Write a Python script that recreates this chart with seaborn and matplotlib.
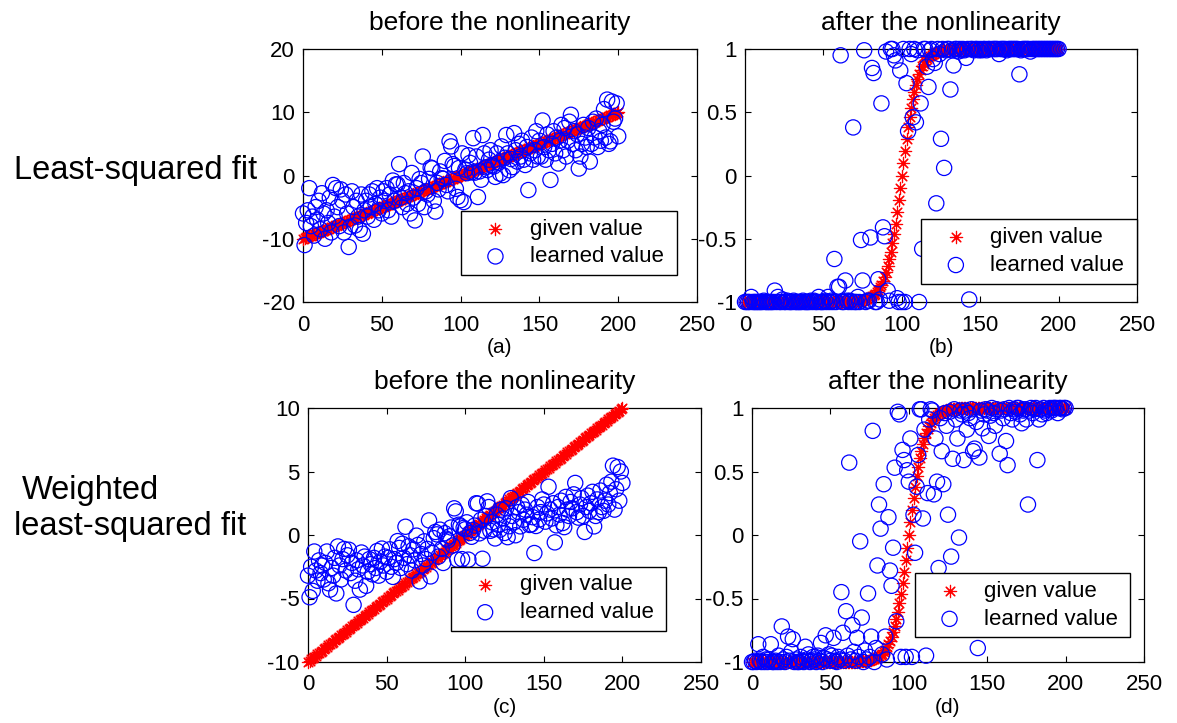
import matplotlib
matplotlib.use("Agg")
import matplotlib.pyplot as plt
import seaborn as sns
import pandas as pd

sns.set_theme(style="ticks")
plt.rcParams["font.family"] = ["Liberation Sans", "DejaVu Sans"]
plt.rcParams["axes.unicode_minus"] = False

# ---------------- data ----------------
sample_index = [
    0, 1, 2, 3, 4, 5, 6, 7, 8, 9, 10, 11, 12, 13, 14, 15, 16, 17, 18, 19,
    20, 21, 22, 23, 24, 25, 26, 27, 28, 29, 30, 31, 32, 33, 34, 35, 36, 37, 38, 39,
    40, 41, 42, 43, 44, 45, 46, 47, 48, 49, 50, 51, 52, 53, 54, 55, 56, 57, 58, 59,
    60, 61, 62, 63, 64, 65, 66, 67, 68, 69, 70, 71, 72, 73, 74, 75, 76, 77, 78, 79,
    80, 81, 82, 83, 84, 85, 86, 87, 88, 89, 90, 91, 92, 93, 94, 95, 96, 97, 98, 99,
    100, 101, 102, 103, 104, 105, 106, 107, 108, 109, 110, 111, 112, 113, 114, 115, 116, 117, 118, 119,
    120, 121, 122, 123, 124, 125, 126, 127, 128, 129, 130, 131, 132, 133, 134, 135, 136, 137, 138, 139,
    140, 141, 142, 143, 144, 145, 146, 147, 148, 149, 150, 151, 152, 153, 154, 155, 156, 157, 158, 159,
    160, 161, 162, 163, 164, 165, 166, 167, 168, 169, 170, 171, 172, 173, 174, 175, 176, 177, 178, 179,
    180, 181, 182, 183, 184, 185, 186, 187, 188, 189, 190, 191, 192, 193, 194, 195, 196, 197, 198, 199,
    200,
]

given_before = [
    -10.0, -9.9, -9.8, -9.7, -9.6, -9.5, -9.4, -9.3, -9.2, -9.1,
    -9.0, -8.9, -8.8, -8.7, -8.6, -8.5, -8.4, -8.3, -8.2, -8.1,
    -8.0, -7.9, -7.8, -7.7, -7.6, -7.5, -7.4, -7.3, -7.2, -7.1,
    -7.0, -6.9, -6.8, -6.7, -6.6, -6.5, -6.4, -6.3, -6.2, -6.1,
    -6.0, -5.9, -5.8, -5.7, -5.6, -5.5, -5.4, -5.3, -5.2, -5.1,
    -5.0, -4.9, -4.8, -4.7, -4.6, -4.5, -4.4, -4.3, -4.2, -4.1,
    -4.0, -3.9, -3.8, -3.7, -3.6, -3.5, -3.4, -3.3, -3.2, -3.1,
    -3.0, -2.9, -2.8, -2.7, -2.6, -2.5, -2.4, -2.3, -2.2, -2.1,
    -2.0, -1.9, -1.8, -1.7, -1.6, -1.5, -1.4, -1.3, -1.2, -1.1,
    -1.0, -0.9, -0.8, -0.7, -0.6, -0.5, -0.4, -0.3, -0.2, -0.1,
    0.0, 0.1, 0.2, 0.3, 0.4, 0.5, 0.6, 0.7, 0.8, 0.9,
    1.0, 1.1, 1.2, 1.3, 1.4, 1.5, 1.6, 1.7, 1.8, 1.9,
    2.0, 2.1, 2.2, 2.3, 2.4, 2.5, 2.6, 2.7, 2.8, 2.9,
    3.0, 3.1, 3.2, 3.3, 3.4, 3.5, 3.6, 3.7, 3.8, 3.9,
    4.0, 4.1, 4.2, 4.3, 4.4, 4.5, 4.6, 4.7, 4.8, 4.9,
    5.0, 5.1, 5.2, 5.3, 5.4, 5.5, 5.6, 5.7, 5.8, 5.9,
    6.0, 6.1, 6.2, 6.3, 6.4, 6.5, 6.6, 6.7, 6.8, 6.9,
    7.0, 7.1, 7.2, 7.3, 7.4, 7.5, 7.6, 7.7, 7.8, 7.9,
    8.0, 8.1, 8.2, 8.3, 8.4, 8.5, 8.6, 8.7, 8.8, 8.9,
    9.0, 9.1, 9.2, 9.3, 9.4, 9.5, 9.6, 9.7, 9.8, 9.9,
    10.0,
]

given_after = [
    -1.0, -1.0, -1.0, -1.0, -1.0, -1.0, -1.0, -1.0, -1.0, -1.0,
    -1.0, -1.0, -1.0, -1.0, -1.0, -1.0, -1.0, -1.0, -1.0, -1.0,
    -1.0, -1.0, -1.0, -1.0, -1.0, -1.0, -1.0, -1.0, -1.0, -1.0,
    -1.0, -1.0, -1.0, -1.0, -1.0, -1.0, -1.0, -1.0, -1.0, -1.0,
    -1.0, -1.0, -1.0, -1.0, -1.0, -1.0, -1.0, -1.0, -1.0, -1.0,
    -1.0, -1.0, -1.0, -1.0, -1.0, -1.0, -1.0, -1.0, -1.0, -1.0,
    -1.0, -0.999, -0.999, -0.999, -0.999, -0.998, -0.998, -0.997, -0.997, -0.996,
    -0.995, -0.994, -0.993, -0.991, -0.989, -0.987, -0.984, -0.980, -0.976, -0.970,
    -0.964, -0.956, -0.947, -0.935, -0.922, -0.905, -0.885, -0.862, -0.834, -0.800,
    -0.762, -0.716, -0.664, -0.604, -0.537, -0.462, -0.380, -0.291, -0.197, -0.100,
    0.0, 0.100, 0.197, 0.291, 0.380, 0.462, 0.537, 0.604, 0.664, 0.716,
    0.762, 0.800, 0.834, 0.862, 0.885, 0.905, 0.922, 0.935, 0.947, 0.956,
    0.964, 0.970, 0.976, 0.980, 0.984, 0.987, 0.989, 0.991, 0.993, 0.994,
    0.995, 0.996, 0.997, 0.997, 0.998, 0.998, 0.999, 0.999, 0.999, 0.999,
    1.0, 1.0, 1.0, 1.0, 1.0, 1.0, 1.0, 1.0, 1.0, 1.0,
    1.0, 1.0, 1.0, 1.0, 1.0, 1.0, 1.0, 1.0, 1.0, 1.0,
    1.0, 1.0, 1.0, 1.0, 1.0, 1.0, 1.0, 1.0, 1.0, 1.0,
    1.0, 1.0, 1.0, 1.0, 1.0, 1.0, 1.0, 1.0, 1.0, 1.0,
    1.0, 1.0, 1.0, 1.0, 1.0, 1.0, 1.0, 1.0, 1.0, 1.0,
    1.0, 1.0, 1.0, 1.0, 1.0, 1.0, 1.0, 1.0, 1.0, 1.0,
    1.0,
]

# (a) least-squared fit, learned value before the nonlinearity
ls_learned_before = [
    -6.0, -11.0, -7.5, -5.5, -2.0, -8.0, -6.5, -9.5, -5.0, -7.0,
    -4.0, -8.5, -2.8, -6.0, -10.0, -5.5, -7.5, -3.5, -9.0, -1.5,
    -6.5, -2.0, -5.0, -8.0, -2.2, -4.0, -9.0, -3.0, -6.0, -11.3,
    -8.1, -2.5, -5.0, -7.9, -4.0, -6.5, -8.6, -3.0, -9.2, -5.5,
    -4.0, -6.5, -3.0, -5.0, -2.5, -7.0, -4.5, -2.0, -5.5, -3.5,
    -6.0, -2.5, -4.0, -2.0, -5.5, -3.0, -6.5, -0.8, -4.0, -1.4,
    -1.4, 1.8, -3.5, -5.0, -1.2, -2.8, -4.5, -2.5, -6.0, 0.4,
    -3.5, -7.1, -2.0, -4.5, -0.56, -1.2, 3.0, -5.0, -2.5, -3.0,
    -0.54, 1.26, 1.13, -4.0, -5.7, -1.16, -2.2, 0.64, -0.44, -0.52,
    2.3, -1.5, -2.5, 5.4, 4.6, 1.8, 1.5, -2.1, -3.4, 1.19,
    -3.9, 3.5, -4.2, 0.93, 0.37, 3.2, 2.0, 0.5, 5.9, 0.45,
    3.0, -3.4, 0.65, -0.67, 6.4, 3.5, 1.3, 0.87, 2.5, 4.0,
    1.6, 1.42, -0.22, 3.5, 2.0, 0.3, 4.6, 0.06, 2.8, 6.4,
    3.5, 0.83, 2.6, 1.33, 6.7, 4.0, 2.2, 5.0, 3.0, 5.5,
    2.5, 1.66, 4.5, -2.3, 3.5, 6.0, 2.5, 4.0, 7.0, 3.0,
    5.5, 3.0, 8.7, 4.5, 2.5, 6.5, 4.0, -0.7, 5.0, 7.0,
    3.5, 6.0, 1.9, 5.5, 8.0, 4.0, 7.5, 3.0, 5.5, 8.5,
    9.6, 5.0, 7.0, 4.0, 6.5, 1.1, 3.0, 5.0, 8.0, 6.0,
    4.5, 7.5, 2.2, 5.0, 8.5, 6.0, 9.0, 4.5, 7.0, 5.5,
    8.0, 10.5, 6.0, 12.0, 5.0, 5.4, 11.7, 8.5, 9.0, 11.4,
    6.2,
]

# (b) least-squared fit, learned value after the nonlinearity
ls_learned_after = [
    -1.0, -1.0, -1.0, -1.0, -0.96, -1.0, -1.0, -1.0, -1.0, -1.0,
    -1.0, -1.0, -0.99, -1.0, -1.0, -1.0, -1.0, -1.0, -1.0, -0.91,
    -1.0, -0.96, -1.0, -1.0, -0.98, -1.0, -1.0, -0.99, -1.0, -1.0,
    -1.0, -0.99, -1.0, -1.0, -1.0, -1.0, -1.0, -0.99, -1.0, -1.0,
    -1.0, -1.0, -0.99, -1.0, -0.99, -1.0, -1.0, -0.96, -1.0, -1.0,
    -1.0, -0.99, -1.0, -0.96, -1.0, -0.99, -1.0, -0.66, -1.0, -0.88,
    -0.88, 0.95, -1.0, -1.0, -0.83, -0.99, -1.0, -0.99, -1.0, 0.38,
    -1.0, -1.0, -0.96, -1.0, -0.51, -0.83, 0.99, -1.0, -0.99, -0.99,
    -0.49, 0.85, 0.81, -1.0, -1.0, -0.82, -0.98, 0.57, -0.41, -0.48,
    0.98, -0.91, -0.99, 1.0, 1.0, 0.95, 0.91, -0.97, -1.0, 0.83,
    -1.0, 1.0, -1.0, 0.73, 0.35, 1.0, 0.96, 0.46, 1.0, 0.42,
    0.99, -1.0, 0.57, -0.58, 1.0, 1.0, 0.86, 0.70, 0.99, 1.0,
    0.92, 0.89, -0.22, 1.0, 0.96, 0.29, 1.0, 0.06, 0.99, 1.0,
    1.0, 0.68, 0.99, 0.87, 1.0, 1.0, 0.98, 1.0, 0.99, 1.0,
    0.99, 0.93, 1.0, -0.98, 1.0, 1.0, 0.99, 1.0, 1.0, 0.99,
    1.0, 0.99, 1.0, 1.0, 0.99, 1.0, 1.0, -0.60, 1.0, 1.0,
    1.0, 1.0, 0.96, 1.0, 1.0, 1.0, 1.0, 0.99, 1.0, 1.0,
    1.0, 1.0, 1.0, 1.0, 1.0, 0.80, 0.99, 1.0, 1.0, 1.0,
    1.0, 1.0, 0.98, 1.0, 1.0, 1.0, 1.0, 1.0, 1.0, 1.0,
    1.0, 1.0, 1.0, 1.0, 1.0, 1.0, 1.0, 1.0, 1.0, 1.0,
    1.0,
]

# (c) weighted least-squared fit, learned value before the nonlinearity
wls_learned_before = [
    -3.2, -4.9, -2.5, -4.4, -1.3, -2.8, -3.6, -2.0, -3.0, -2.4,
    -3.5, -2.2, -1.3, -3.8, -4.3, -2.6, -3.2, -1.8, -4.6, -0.9,
    -2.4, -3.5, -1.9, -1.1, -2.8, -1.6, -1.16, -3.0, -2.2, -5.5,
    -3.6, -2.0, -2.7, -4.3, -1.38, -2.4, -1.7, -4.0, -2.9, -1.9,
    -2.3, -3.1, -1.8, -2.6, -1.26, -3.2, -2.1, -1.07, -2.4, -1.7,
    -2.9, -1.8, -1.13, -2.5, -3.3, -1.9, -2.2, -0.48, -1.02, -2.6,
    -0.69, -1.8, 0.65, -2.3, -0.89, -1.6, -2.8, -1.13, -2.0, -0.05,
    -0.78, -3.65, -1.5, -2.4, -0.5, -1.9, -1.1, 1.15, -3.26, -1.4,
    -0.25, 0.24, 0.05, -1.7, 0.42, -1.1, -2.2, 0.14, -0.29, -0.42,
    -0.1, 0.59, -0.83, 2.1, 1.86, -1.94, 0.81, 0.68, -1.9, 0.56,
    0.45, 1.0, -1.94, 0.16, -0.14, 0.4, 0.74, 2.5, 2.47, 0.13,
    1.2, -1.87, 0.34, 1.5, 2.65, 2.2, 0.33, 1.0, 0.45, -0.27,
    1.6, 0.8, 0.42, 2.0, 1.3, 0.16, 2.1, -0.17, 0.69, 2.9,
    1.5, 1.0, -0.02, 2.2, 1.8, 0.68, 2.4, 1.2, 2.0, 1.6,
    2.6, 0.79, 0.83, 1.4, -1.42, 0.71, 2.2, 1.22, 1.8, 2.8,
    2.4, 1.05, 1.7, 3.8, 2.0, 1.3, 2.5, -0.58, 0.76, 2.2,
    1.6, 2.7, 0.94, 0.62, 3.0, 2.0, 1.5, 2.6, 2.1, 3.2,
    4.1, 1.8, 1.37, 2.4, 2.9, 1.5, 0.24, 2.2, 3.1, 1.9,
    2.5, 3.4, 0.68, 1.5, 2.8, 1.8, 3.5, 2.2, 1.9, 2.7,
    3.96, 2.4, 3.3, 4.2, 5.46, 2.0, 3.6, 5.35, 2.7, 5.0,
    4.1,
]

# (d) weighted least-squared fit, learned value after the nonlinearity
wls_learned_after = [
    -1.0, -1.0, -0.99, -1.0, -0.86, -0.99, -1.0, -0.96, -1.0, -0.98,
    -1.0, -0.98, -0.86, -1.0, -1.0, -0.99, -1.0, -0.95, -1.0, -0.72,
    -0.98, -1.0, -0.96, -0.80, -0.99, -0.92, -0.82, -1.0, -0.98, -1.0,
    -1.0, -0.96, -0.99, -1.0, -0.88, -0.98, -0.94, -1.0, -0.99, -0.96,
    -0.98, -1.0, -0.95, -0.99, -0.85, -1.0, -0.97, -0.79, -0.98, -0.94,
    -0.99, -0.95, -0.81, -0.99, -1.0, -0.96, -0.98, -0.45, -0.77, -0.99,
    -0.60, -0.95, 0.57, -0.98, -0.71, -0.92, -0.99, -0.81, -0.96, -0.05,
    -0.65, -1.0, -0.91, -0.98, -0.46, -0.96, -0.80, 0.82, -1.0, -0.89,
    -0.24, 0.24, 0.05, -0.94, 0.40, -0.80, -0.98, 0.14, -0.28, -0.40,
    -0.10, 0.53, -0.68, 0.97, 0.95, -0.96, 0.67, 0.59, -0.96, 0.51,
    0.42, 0.76, -0.96, 0.16, -0.14, 0.38, 0.63, 0.99, 0.99, 0.13,
    0.83, -0.95, 0.33, 0.91, 0.99, 0.98, 0.32, 0.76, 0.42, -0.26,
    0.92, 0.66, 0.40, 0.96, 0.86, 0.16, 0.97, -0.17, 0.60, 0.99,
    0.91, 0.76, -0.02, 0.98, 0.95, 0.59, 0.98, 0.83, 0.96, 0.92,
    0.99, 0.66, 0.68, 0.89, -0.89, 0.61, 0.98, 0.84, 0.95, 0.99,
    0.98, 0.78, 0.94, 1.0, 0.96, 0.86, 0.99, -0.52, 0.64, 0.98,
    0.92, 0.99, 0.74, 0.55, 1.0, 0.96, 0.91, 0.99, 0.97, 1.0,
    1.0, 0.95, 0.88, 0.98, 0.99, 0.91, 0.24, 0.98, 1.0, 0.96,
    0.99, 1.0, 0.59, 0.91, 0.99, 0.95, 1.0, 0.98, 0.96, 0.99,
    1.0, 0.98, 1.0, 1.0, 1.0, 0.96, 1.0, 1.0, 0.99, 1.0,
    1.0,
]

x_ticks = [0, 50, 100, 150, 200, 250]
x_tick_labels = ["0", "50", "100", "150", "200", "250"]
series_labels = ["given value", "learned value"]
titles = ["before the nonlinearity", "after the nonlinearity"]
panel_tags = ["(a)", "(b)", "(c)", "(d)"]
row_labels = ["Least-squared fit", "Weighted", "least-squared fit"]

y_ticks_a = [-20, -10, 0, 10, 20]
y_ticks_c = [-10, -5, 0, 5, 10]
y_ticks_after = [-1, -0.5, 0, 0.5, 1]
y_tick_labels_a = ["-20", "-10", "0", "10", "20"]
y_tick_labels_c = ["-10", "-5", "0", "5", "10"]
y_tick_labels_after = ["-1", "-0.5", "0", "0.5", "1"]

# ---------------- figure ----------------
W, H = 1177, 723
fig = plt.figure(figsize=(W / 100, H / 100), dpi=100)
fig.patch.set_facecolor("white")


def px_rect(left, top, right, bottom):
    return [left / W, 1 - bottom / H, (right - left) / W, (bottom - top) / H]


panels = [
    dict(rect=px_rect(303, 49, 697, 302), given=given_before, learned=ls_learned_before,
         ylim=(-20, 20), yticks=y_ticks_a, ylabels=y_tick_labels_a, title=titles[0],
         tag=panel_tags[0], leg=(0.401, 0.107, 0.548, 0.253)),
    dict(rect=px_rect(745, 49, 1137, 302), given=given_after, learned=ls_learned_after,
         ylim=(-1, 1), yticks=y_ticks_after, ylabels=y_tick_labels_after, title=titles[1],
         tag=panel_tags[1], leg=(0.45, 0.071, 0.55, 0.257)),
    dict(rect=px_rect(308, 408, 701, 662), given=given_before, learned=wls_learned_before,
         ylim=(-10, 10), yticks=y_ticks_c, ylabels=y_tick_labels_c, title=titles[0],
         tag=panel_tags[2], leg=(0.363, 0.123, 0.548, 0.252)),
    dict(rect=px_rect(752, 408, 1144, 662), given=given_after, learned=wls_learned_after,
         ylim=(-1, 1), yticks=y_ticks_after, ylabels=y_tick_labels_after, title=titles[1],
         tag=panel_tags[3], leg=(0.416, 0.097, 0.548, 0.252)),
]

ASTERISK = (8, 2, 0)

for p in panels:
    ax = fig.add_axes(p["rect"])
    ax.set_facecolor("white")
    df = pd.DataFrame({"index": sample_index, "given": p["given"], "learned": p["learned"]})
    sns.scatterplot(data=df, x="index", y="given", ax=ax, marker=ASTERISK, s=78,
                    color="#ff0000", linewidth=0.85, clip_on=False, zorder=3,
                    label=series_labels[0])
    sns.scatterplot(data=df, x="index", y="learned", ax=ax, marker="o", s=120,
                    facecolor="none", edgecolor="#0000ff", linewidth=0.9,
                    clip_on=False, zorder=4, label=series_labels[1])
    ax.set_xlim(0, 250)
    ax.set_ylim(*p["ylim"])
    ax.set_xticks(x_ticks)
    ax.set_xticklabels(x_tick_labels)
    ax.set_yticks(p["yticks"])
    ax.set_yticklabels(p["ylabels"])
    ax.tick_params(direction="in", top=True, right=True, length=4, width=0.8,
                   labelsize=16, pad=6, colors="black")
    ax.tick_params(axis="x", pad=9)
    for sp in ax.spines.values():
        sp.set_visible(True)
        sp.set_color("black")
        sp.set_linewidth(0.9)
    ax.set_xlabel(p["tag"], fontsize=15, labelpad=2, color="black")
    ax.set_ylabel("")
    ax.set_title(p["title"], fontsize=19, pad=14, color="black")
    leg = ax.legend(loc="center", bbox_to_anchor=p["leg"], mode="expand",
                    fontsize=16, handlelength=2.4, handletextpad=0.35,
                    borderpad=0.35, labelspacing=0.3, fancybox=False,
                    framealpha=1, edgecolor="black", borderaxespad=0)
    leg.get_frame().set_linewidth(1.0)
    leg.set_zorder(10)
    for t in leg.get_texts():
        t.set_color("black")

fig.text(14 / W, 1 - 170 / H, row_labels[0], fontsize=23.5, ha="left", va="center", color="black")
fig.text(22 / W, 1 - 491 / H, row_labels[1], fontsize=23.5, ha="left", va="center", color="black")
fig.text(14 / W, 1 - 527 / H, row_labels[2], fontsize=23.5, ha="left", va="center", color="black")

fig.savefig("out.png", dpi=100, facecolor="white")
